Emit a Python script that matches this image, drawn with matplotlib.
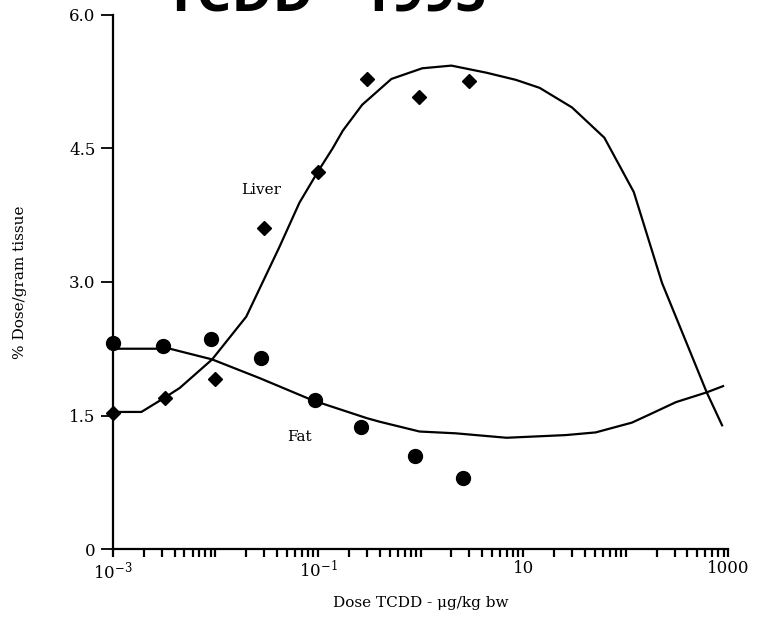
import matplotlib
matplotlib.use('Agg')
import matplotlib.pyplot as plt
from matplotlib.ticker import LogLocator, NullFormatter, FixedLocator, FixedFormatter

# measured points (dose in ug/kg bw, % dose per gram tissue)
liverDose = [0.001, 0.0032, 0.01, 0.03, 0.1, 0.30, 0.96, 3.0]
liverPct = [1.53, 1.70, 1.91, 3.61, 4.24, 5.28, 5.08, 5.26]
fatDose = [0.001, 0.0031, 0.0091, 0.028, 0.093, 0.26, 0.89, 2.6]
fatPct = [2.31, 2.28, 2.36, 2.15, 1.67, 1.37, 1.05, 0.80]

# fitted model curves
liverCurveDose = [0.001, 0.0019, 0.0032, 0.0045, 0.0093, 0.020, 0.042, 0.066, 0.10, 0.139,
                  0.175, 0.27, 0.52, 1.04, 2.0, 4.4, 8.5, 14.5, 30, 62, 120, 226, 417, 617, 871]
liverCurvePct = [1.54, 1.54, 1.70, 1.81, 2.13, 2.61, 3.39, 3.89, 4.24, 4.50,
                 4.70, 4.99, 5.28, 5.40, 5.43, 5.35, 5.27, 5.18, 4.96, 4.62, 4.01, 2.99, 2.24, 1.76, 1.39]
fatCurveDose = [0.001, 0.0036, 0.0093, 0.027, 0.089, 0.30, 0.40, 0.98, 2.2, 6.9,
                26, 51, 115, 170, 309, 617, 891]
fatCurvePct = [2.25, 2.25, 2.13, 1.92, 1.67, 1.47, 1.43, 1.32, 1.30, 1.25,
               1.28, 1.31, 1.42, 1.51, 1.65, 1.76, 1.83]

xTicks = [1e-3, 1e-1, 10, 1000]
xTickLabels = ['$10^{-3}$', '$10^{-1}$', '10', '1000']
yTicks = [0, 1.5, 3.0, 4.5, 6.0]
yTickLabels = ['0', '1.5', '3.0', '4.5', '6.0']

plt.rcParams['font.family'] = 'DejaVu Serif'
plt.rcParams['mathtext.fontset'] = 'dejavuserif'

fig = plt.figure(figsize=(7.57, 6.19), dpi=100)
ax = fig.add_axes([0.149, 0.113, 0.813, 0.863])

ax.plot(liverCurveDose, liverCurvePct, color='black', lw=1.6)
ax.plot(fatCurveDose, fatCurvePct, color='black', lw=1.6)
ax.plot(liverDose, liverPct, 'D', color='black', ms=7, clip_on=False)
ax.plot(fatDose, fatPct, 'o', color='black', ms=10, clip_on=False)

ax.text(10**-1.55, 4.03, 'Liver', fontsize=11, ha='center', va='center')
ax.text(10**-1.18, 1.26, 'Fat', fontsize=11, ha='center', va='center')

ax.set_xscale('log')
ax.set_xlim(1e-3, 1e3)
ax.set_ylim(0, 6.0)

ax.xaxis.set_major_locator(FixedLocator(xTicks))
ax.xaxis.set_major_formatter(FixedFormatter(xTickLabels))
ax.xaxis.set_minor_locator(LogLocator(base=10, subs=range(1, 10), numticks=20))
ax.xaxis.set_minor_formatter(NullFormatter())
ax.set_yticks(yTicks)
ax.set_yticklabels(yTickLabels)

ax.spines['top'].set_visible(False)
ax.spines['right'].set_visible(False)
ax.spines['left'].set_linewidth(1.6)
ax.spines['bottom'].set_linewidth(1.6)
ax.tick_params(axis='x', which='both', direction='out', length=6, width=1.6,
               labelsize=12, pad=2)
ax.tick_params(axis='y', direction='out', length=9, width=1.3, labelsize=12)

ax.set_xlabel('Dose TCDD - \u03bcg/kg bw', fontsize=11, labelpad=10)
ax.set_ylabel('% Dose/gram tissue', fontsize=11, labelpad=30)

fig.text(0.43, 1 - 12 / 619, 'TCDD - 1995', fontsize=40, fontweight='bold',
         family='Open Sans', ha='center', va='baseline')

fig.savefig('out.png', dpi=100)
